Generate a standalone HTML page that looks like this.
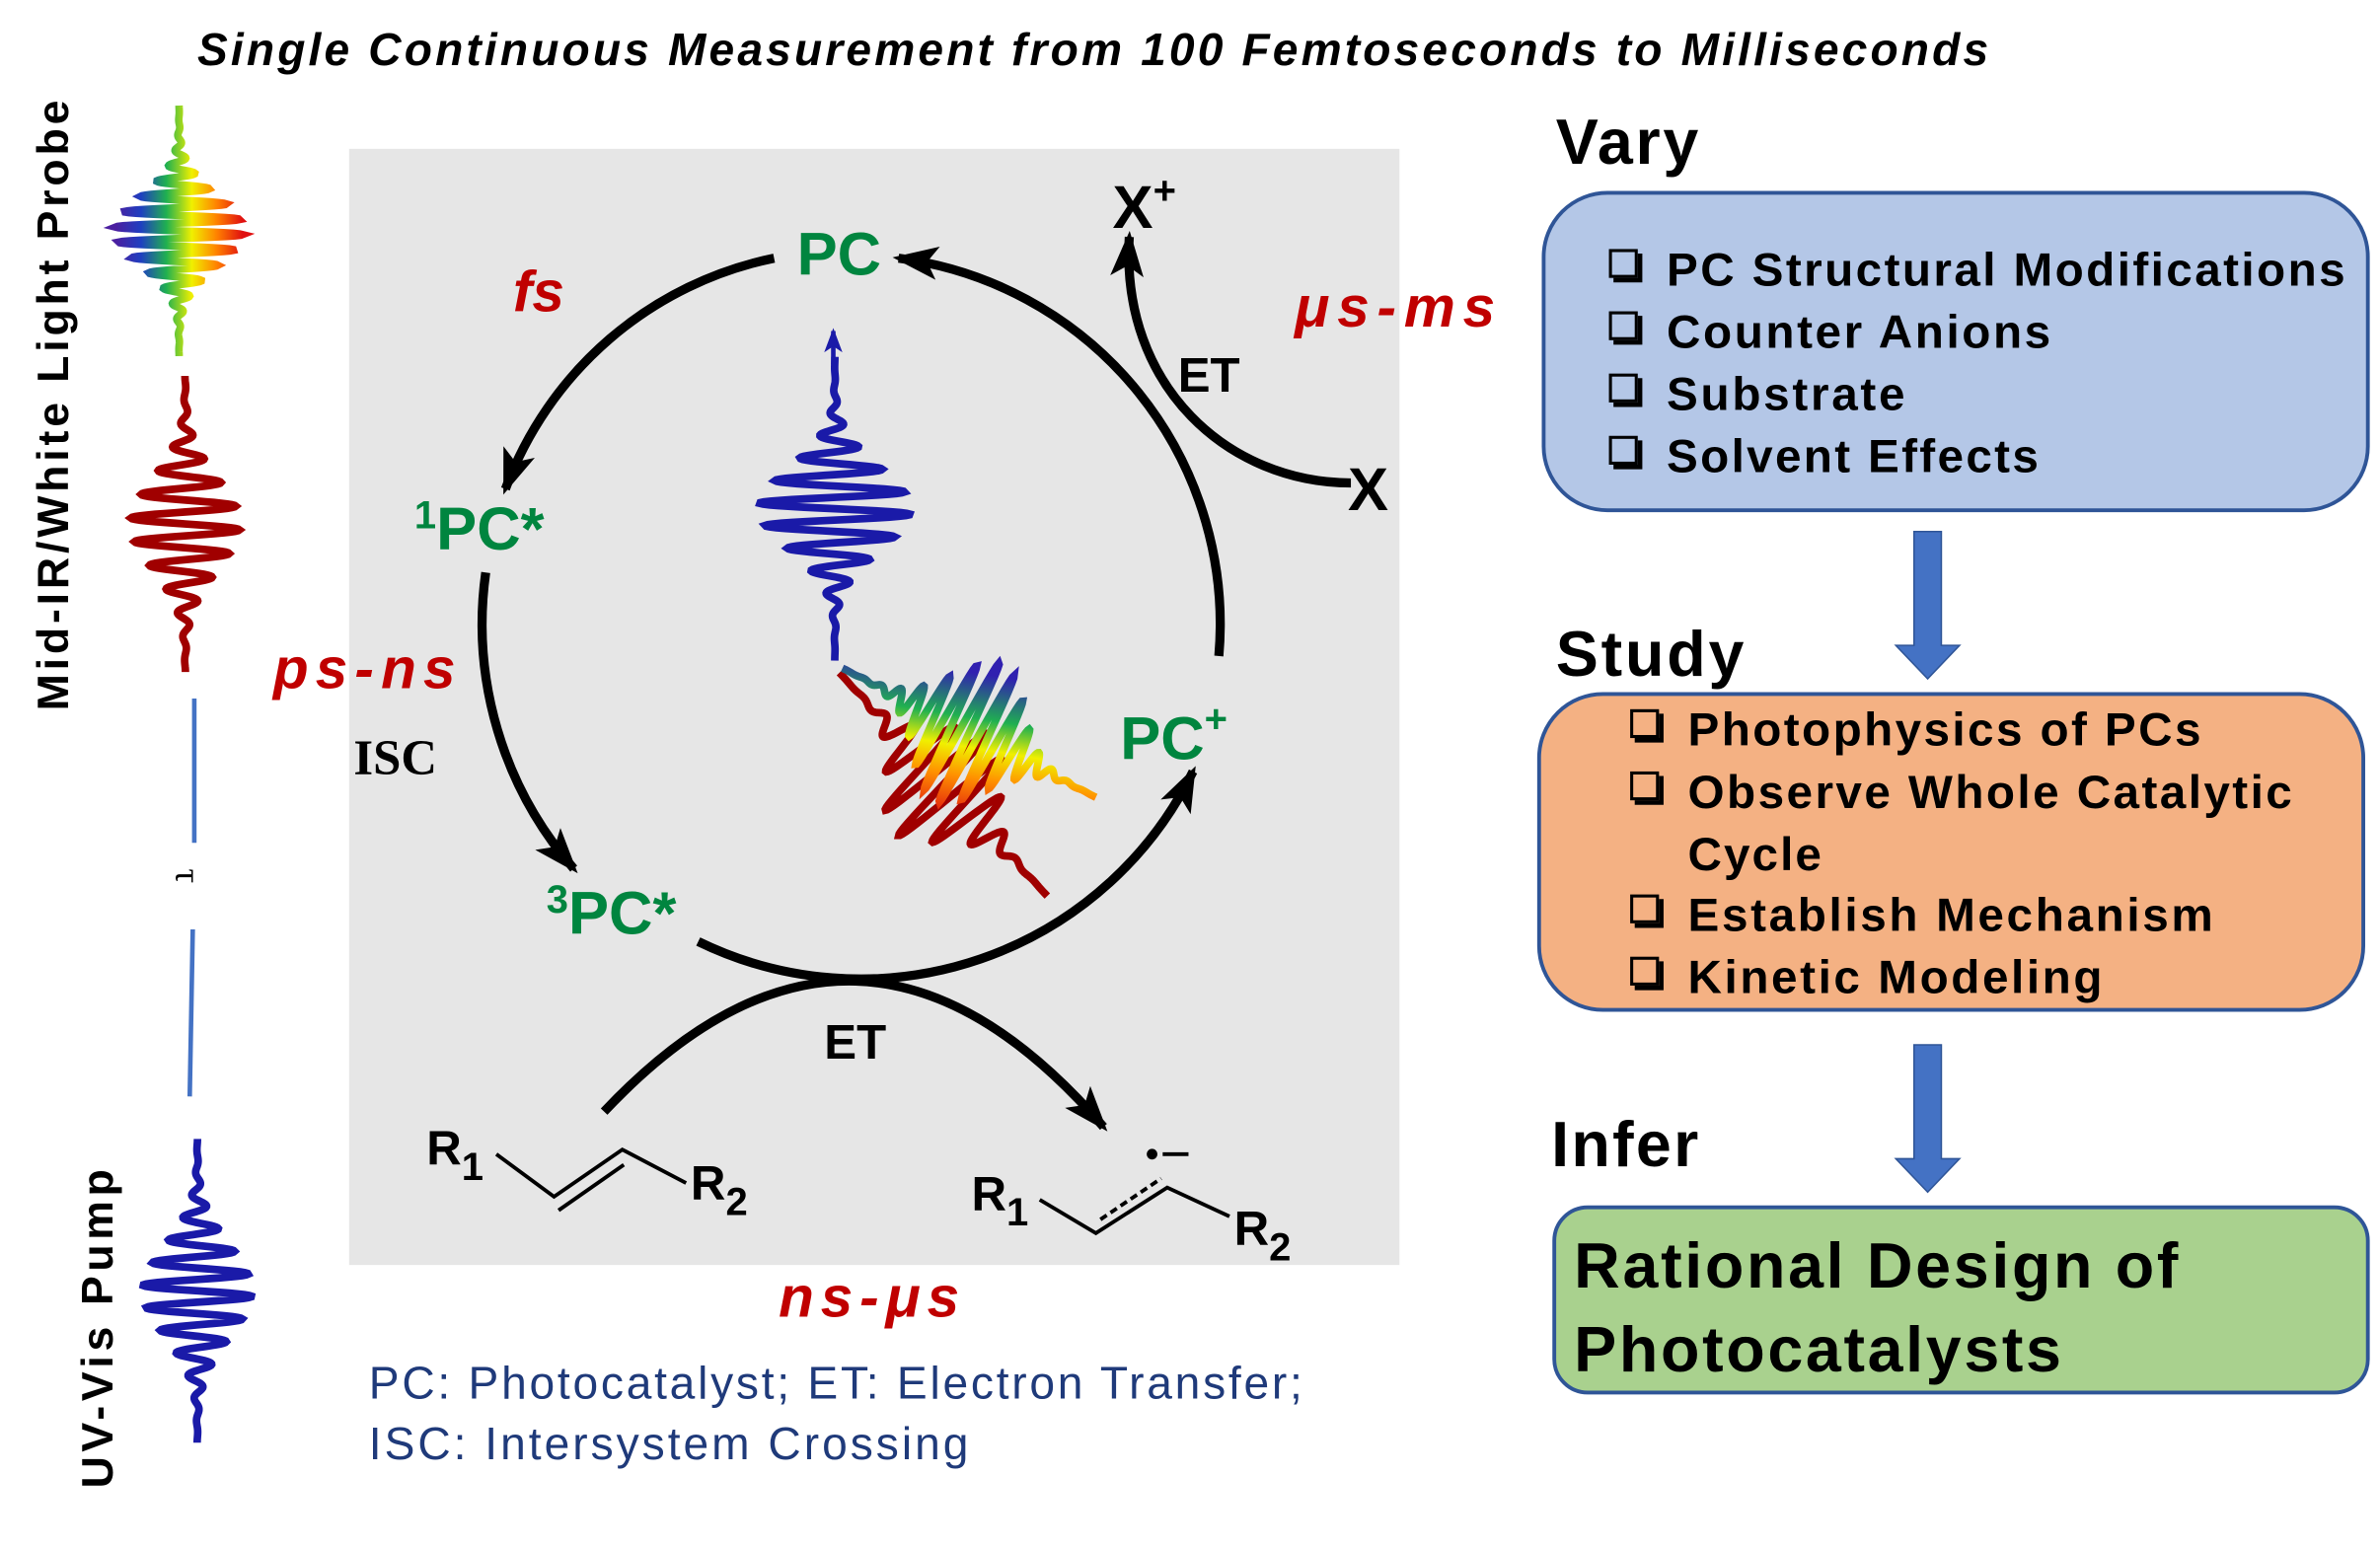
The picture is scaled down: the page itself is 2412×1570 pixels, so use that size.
<!DOCTYPE html>
<html><head><meta charset="utf-8">
<style>
html,body{margin:0;padding:0;background:#fff;}
svg{display:block;}
text{font-family:"Liberation Sans",Arial,sans-serif;}
</style></head>
<body>
<svg id="s" width="2412" height="1570" viewBox="0 0 1568 1020" preserveAspectRatio="none" xmlns="http://www.w3.org/2000/svg">
<defs>
  <marker id="ah" markerUnits="userSpaceOnUse" markerWidth="30" markerHeight="30" viewBox="0 0 30 30" refX="26" refY="15" orient="auto">
    <path d="M0,4 L30,15 L0,26 L7,15 Z" fill="#000"/>
  </marker>
  <marker id="ahb" markerUnits="userSpaceOnUse" markerWidth="16" markerHeight="16" viewBox="0 0 16 16" refX="14" refY="8" orient="auto">
    <path d="M0,2 L16,8 L0,14 L4,8 Z" fill="#1a1aa8"/>
  </marker>
  <linearGradient id="rb" x1="0" y1="0" x2="1" y2="0">
    <stop offset="0" stop-color="#4b1fa0"/><stop offset="0.2" stop-color="#1f3fc0"/>
    <stop offset="0.4" stop-color="#20b050"/><stop offset="0.6" stop-color="#f0f000"/>
    <stop offset="0.8" stop-color="#ff8000"/><stop offset="1" stop-color="#e01010"/>
  </linearGradient>
  <linearGradient id="rb2" x1="0" y1="1" x2="0.3" y2="0">
    <stop offset="0" stop-color="#e01010"/><stop offset="0.3" stop-color="#ff9000"/>
    <stop offset="0.5" stop-color="#f0f000"/><stop offset="0.7" stop-color="#20b050"/>
    <stop offset="1" stop-color="#3020b0"/>
  </linearGradient>
</defs>

<text x="130" y="43" font-size="30" font-weight="bold" font-style="italic" textLength="1180">Single Continuous Measurement from 100 Femtoseconds to Milliseconds</text>

<text transform="translate(45,468) rotate(-90)" font-size="29" font-weight="bold" textLength="402">Mid-IR/White Light Probe</text>
<text transform="translate(74,980) rotate(-90)" font-size="29" font-weight="bold" textLength="210">UV-Vis Pump</text>

<path id="w1" fill="none" stroke="url(#rb)" stroke-width="5"/>
<path id="w2" fill="none" stroke="#a00000" stroke-width="5"/>
<path id="w3" fill="none" stroke="#1a1aa8" stroke-width="5"/>
<line x1="128" y1="460" x2="128" y2="555" stroke="#4472c4" stroke-width="3"/>
<line x1="127" y1="612" x2="125" y2="722" stroke="#4472c4" stroke-width="3"/>
<text transform="translate(116,572) rotate(90)" font-size="24" style="font-family:'Liberation Serif',serif">τ</text>

<rect x="230" y="98" width="692" height="735" fill="#e6e6e6"/>

<g fill="none" stroke="#000" stroke-width="6">
  <path d="M510,170 A240,240 0 0 0 333,322" marker-end="url(#ah)"/>
  <path d="M320,377 A245,245 0 0 0 378,572" marker-end="url(#ah)"/>
  <path d="M460,620 A244,244 0 0 0 786,508" marker-end="url(#ah)"/>
  <path d="M803,432 A243,243 0 0 0 592,170" marker-end="url(#ah)"/>
  <path d="M890,318 C810,318 738,255 744,156" marker-end="url(#ah)"/>
  <path d="M398,732 Q565,555 727,742" marker-end="url(#ah)"/>
</g>

<path id="w4" fill="none" stroke="#1a1aa8" stroke-width="5"/>
<line x1="549" y1="240" x2="549" y2="218" stroke="#1a1aa8" stroke-width="3" marker-end="url(#ahb)"/>
<g id="chirp"></g>

<g fill="#00853f" font-weight="bold">
  <text x="525" y="181" font-size="40">PC</text>
  <text x="273" y="362" font-size="40"><tspan font-size="26" dy="-14">1</tspan><tspan dy="14">PC*</tspan></text>
  <text x="360" y="615" font-size="40"><tspan font-size="26" dy="-14">3</tspan><tspan dy="14">PC*</tspan></text>
  <text x="738" y="500" font-size="40">PC<tspan font-size="26" dy="-18">+</tspan></text>
</g>
<g fill="#c00000" font-weight="bold" font-style="italic" font-size="38">
  <text x="338" y="205">fs</text>
  <text x="180" y="453" textLength="120">ps-ns</text>
  <text x="853" y="215" textLength="132">μs-ms</text>
  <text x="513" y="867" textLength="119">ns-μs</text>
</g>
<text x="233" y="510" font-size="33" font-weight="bold" style="font-family:'Liberation Serif',serif">ISC</text>
<g font-weight="bold" fill="#000">
  <text x="776" y="258" font-size="32">ET</text>
  <text x="543" y="697" font-size="32">ET</text>
  <text x="733" y="150" font-size="40">X<tspan font-size="26" dy="-16">+</tspan></text>
  <text x="888" y="336" font-size="40">X</text>
</g>

<g font-size="32" font-weight="bold">
  <text x="281" y="767">R<tspan font-size="26" dy="10">1</tspan></text>
  <text x="455" y="790">R<tspan font-size="26" dy="10">2</tspan></text>
  <text x="640" y="797">R<tspan font-size="26" dy="10">1</tspan></text>
  <text x="813" y="820">R<tspan font-size="26" dy="10">2</tspan></text>
</g>
<g stroke="#000" stroke-width="2.5" fill="none">
  <polyline points="327,760 365,788 410,757 452,779"/>
  <line x1="368" y1="797" x2="411" y2="767"/>
  <polyline points="685,790 722,812 769,782 810,801"/>
  <line x1="725" y1="803" x2="765" y2="776" stroke-dasharray="5,3"/>
</g>
<circle cx="759" cy="760" r="3.5" fill="#000"/>
<line x1="766" y1="760" x2="783" y2="760" stroke="#000" stroke-width="2.5"/>

<g fill="#1f3a7a" font-size="30">
  <text x="243" y="921" textLength="615">PC: Photocatalyst; ET: Electron Transfer;</text>
  <text x="243" y="961" textLength="395">ISC: Intersystem Crossing</text>
</g>

<g font-weight="bold">
  <text x="1025" y="108" font-size="42" textLength="94">Vary</text>
  <text x="1025" y="445" font-size="42" textLength="124">Study</text>
  <text x="1022" y="768" font-size="42" textLength="97">Infer</text>
</g>
<rect x="1017" y="127" width="543" height="209" rx="42" fill="#b4c7e7" stroke="#2f5597" stroke-width="2.5"/>
<rect x="1014" y="457" width="543" height="208" rx="42" fill="#f4b183" stroke="#2f5597" stroke-width="2.5"/>
<rect x="1024" y="795" width="536" height="122" rx="22" fill="#a9d18e" stroke="#2f5597" stroke-width="2.5"/>

<g font-size="31" font-weight="bold">
  <text x="1098" y="188" textLength="447">PC Structural Modifications</text>
  <text x="1098" y="229" textLength="253">Counter Anions</text>
  <text x="1098" y="270" textLength="157">Substrate</text>
  <text x="1098" y="311" textLength="245">Solvent Effects</text>
  <text x="1112" y="491" textLength="338">Photophysics of PCs</text>
  <text x="1112" y="532" textLength="398">Observe Whole Catalytic</text>
  <text x="1112" y="573" textLength="88">Cycle</text>
  <text x="1112" y="613" textLength="346">Establish Mechanism</text>
  <text x="1112" y="654" textLength="273">Kinetic Modeling</text>
  <text x="1037" y="848" font-size="42" textLength="398">Rational Design of</text>
  <text x="1037" y="903" font-size="42" textLength="321">Photocatalysts</text>
</g>
<g id="boxes" fill="none" stroke="#000"></g>

<path d="M1261,350 h18 v75 h12 l-21,22 l-21,-22 h12 z" fill="#4472c4" stroke="#2f5597" stroke-width="1"/>
<path d="M1261,688 h18 v75 h12 l-21,22 l-21,-22 h12 z" fill="#4472c4" stroke="#2f5597" stroke-width="1"/>
</svg>

<script>
function wave(cx,c,len,A,w,k,phase){
  var d="",n=400;
  for(var i=0;i<=n;i++){
    var y=c-len/2+len*i/n, t=y-c;
    var x=cx+A*Math.exp(-(t/w)*(t/w))*Math.sin(k*t+(phase||0));
    d+=(i?"L":"M")+x.toFixed(2)+","+y.toFixed(2);
  }
  return d;
}
document.getElementById("w1").setAttribute("d",wave(118,152,165,42,32,0.62,0));
document.getElementById("w2").setAttribute("d",wave(122,345,195,36,42,0.40,0));
document.getElementById("w3").setAttribute("d",wave(130,850,200,36,42,0.42,0));
document.getElementById("w4").setAttribute("d",wave(550,335,200,50,38,0.42,0));
var g=document.getElementById("chirp"),NS="http://www.w3.org/2000/svg";
function diag(x0,y0,x1,y1,A,w,k,col,sw){
  var d="",n=400,L=Math.hypot(x1-x0,y1-y0),ux=(x1-x0)/L,uy=(y1-y0)/L,px=-uy,py=ux;
  for(var i=0;i<=n;i++){
    var s=L*i/n,t=s-L*0.5;
    var a=A*Math.exp(-(t/w)*(t/w))*Math.sin(k*t);
    var x=x0+ux*s+px*a,y=y0+uy*s+py*a;
    d+=(i?"L":"M")+x.toFixed(2)+","+y.toFixed(2);
  }
  var p=document.createElementNS(NS,"path");
  p.setAttribute("d",d);p.setAttribute("fill","none");p.setAttribute("stroke",col);p.setAttribute("stroke-width",sw);
  g.appendChild(p);
}
diag(553,443,690,590,45,38,0.34,"#a00000",5);
diag(555,440,722,525,50,36,0.5,"url(#rb2)",5);
var b=document.getElementById("boxes");
function cb(x,y){
  var r=document.createElementNS(NS,"rect");
  r.setAttribute("x",x);r.setAttribute("y",y);r.setAttribute("width",17);r.setAttribute("height",17);
  r.setAttribute("stroke-width",2);b.appendChild(r);
  var l=document.createElementNS(NS,"polyline");
  l.setAttribute("points",(x+2)+","+(y+19.5)+" "+(x+19.5)+","+(y+19.5)+" "+(x+19.5)+","+(y+2));
  l.setAttribute("stroke-width",3);b.appendChild(l);
}
[188,229,270,311].forEach(function(y){cb(1061,y-23);});
[491,532,613,654].forEach(function(y){cb(1075,y-23);});
</script>
</body></html>
